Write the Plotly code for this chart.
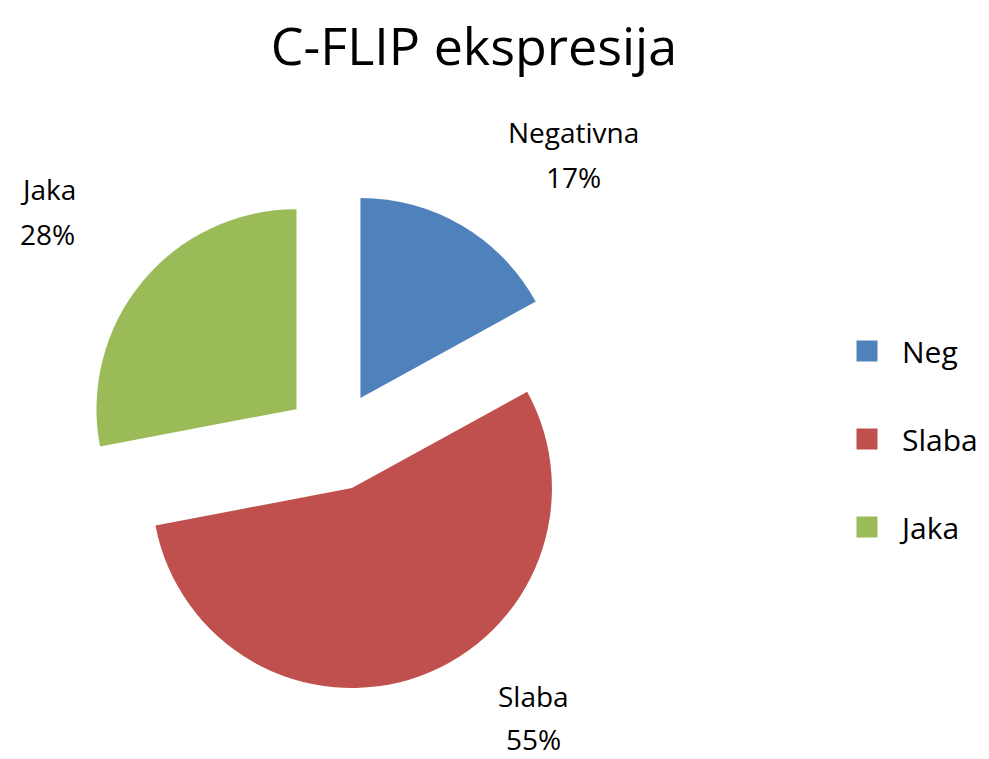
import plotly.graph_objects as go

categories = ["Neg", "Slaba", "Jaka"]
label_names = ["Negativna", "Slaba", "Jaka"]
values = [17, 55, 28]
colors = ["#4F81BD", "#C0504D", "#9BBB59"]

FONT = "Open Sans"
W, H = 989, 759
CX, CY, HALF = 327, 433, 250

fig = go.Figure()

fig.add_trace(go.Pie(
    labels=categories,
    values=values,
    sort=False,
    direction="clockwise",
    rotation=0,
    pull=[0.25, 0.25, 0.25],
    marker=dict(colors=colors, line=dict(width=0)),
    textinfo="none",
    hoverinfo="label+percent",
    showlegend=False,
    domain=dict(x=[(CX - HALF) / W, (CX + HALF) / W],
                y=[(H - CY - HALF) / H, (H - CY + HALF) / H]),
))

# legend proxies
for c, col in zip(categories, colors):
    fig.add_trace(go.Scatter(
        x=[None], y=[None], mode="markers", name=c,
        legendgroup=c,
        marker=dict(symbol="square", size=16, color=col, line=dict(width=5, color=col)),
        showlegend=True,
    ))

# data labels
total = sum(values)
pct = [round(v / total * 100) for v in values]
label_pos = {
    "Negativna": (565, "center"),
    "Slaba": (525, "center"),
    "Jaka": (10, "left"),
}
label_y = {"Negativna": (124, 169), "Slaba": (688, 731), "Jaka": (181, 226)}
annotations = []
for name, p in zip(label_names, pct):
    x, anchor = label_pos[name]
    y1, y2 = label_y[name]
    for txt, yy in ((name, y1), (f"{p}%", y2)):
        annotations.append(dict(
            x=x / W, y=1 - yy / H, xref="paper", yref="paper",
            text=txt, showarrow=False, xanchor=anchor, yanchor="middle",
            font=dict(family=FONT, size=28, color="#000000"),
        ))

fig.update_layout(
    width=W, height=H,
    margin=dict(l=0, r=0, t=0, b=0),
    paper_bgcolor="white", plot_bgcolor="white",
    title=dict(text="C-FLIP ekspresija", x=466 / W, xanchor="center",
               y=1 - 39 / H, yanchor="middle",
               font=dict(family=FONT, size=52, color="#000000")),
    xaxis=dict(visible=False), yaxis=dict(visible=False),
    legend=dict(x=824 / W, xanchor="left", y=1 - 431 / H, yanchor="middle",
                font=dict(family=FONT, size=30, color="#000000"),
                traceorder="grouped", tracegroupgap=46, itemwidth=60,
                itemsizing="trace", bgcolor="rgba(0,0,0,0)"),
    annotations=annotations,
)

fig.write_html("out.html")
